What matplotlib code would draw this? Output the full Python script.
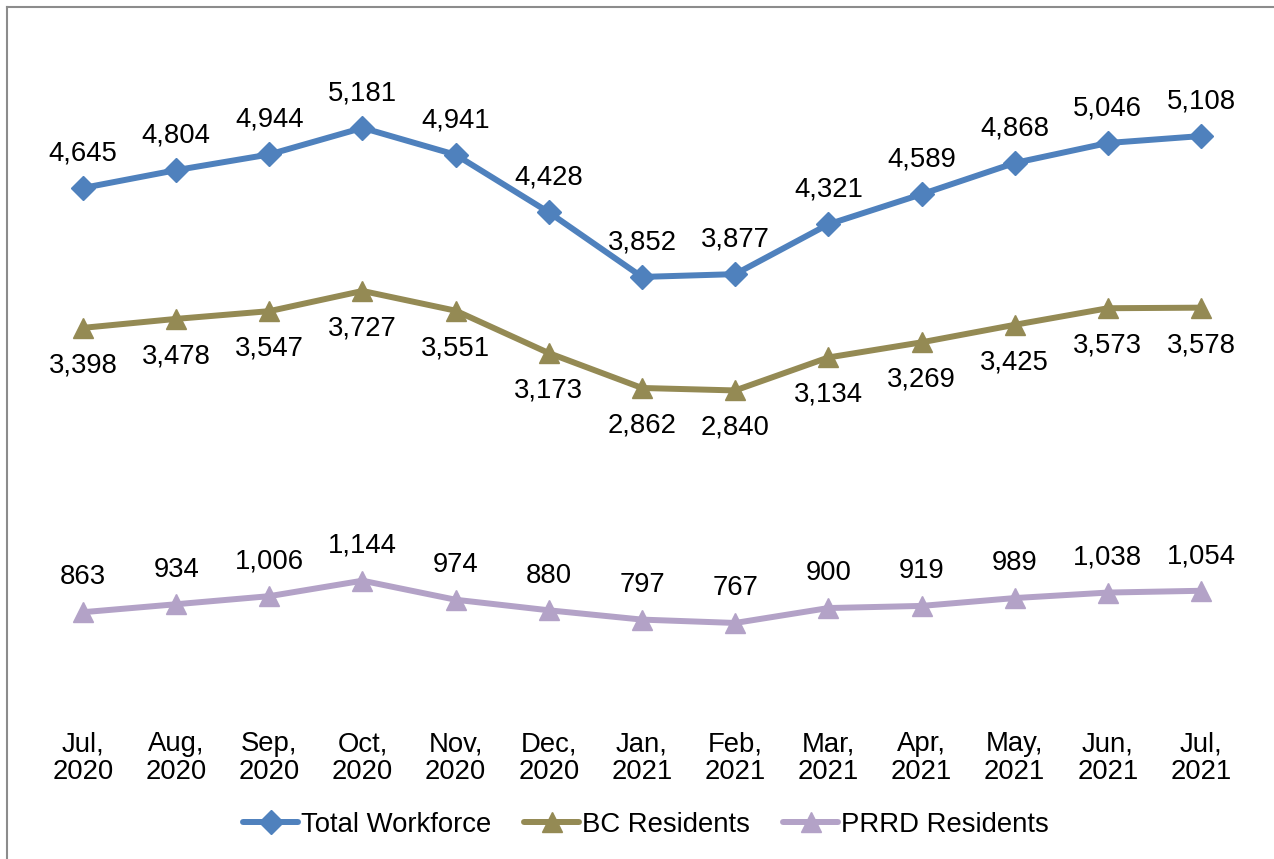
import numpy as np
import matplotlib.pyplot as plt
from matplotlib.lines import Line2D

plt.rcParams['font.family'] = ['Liberation Sans', 'DejaVu Sans']

# Dados do grafico
months = ['Jul,\n2020', 'Aug,\n2020', 'Sep,\n2020', 'Oct,\n2020', 'Nov,\n2020', 'Dec,\n2020',
          'Jan,\n2021', 'Feb,\n2021', 'Mar,\n2021', 'Apr,\n2021', 'May,\n2021', 'Jun,\n2021',
          'Jul,\n2021']
total_workforce = [4645, 4804, 4944, 5181, 4941, 4428, 3852, 3877, 4321, 4589, 4868, 5046, 5108]
bc_residents = [3398, 3478, 3547, 3727, 3551, 3173, 2862, 2840, 3134, 3269, 3425, 3573, 3578]
prrd_residents = [863, 934, 1006, 1144, 974, 880, 797, 767, 900, 919, 989, 1038, 1054]

W, H = 1274, 859
fig = plt.figure(figsize=(W / 100, H / 100), dpi=100)
ax = fig.add_axes([36.4 / W, 1 - 709 / H, (1247.6 - 36.4) / W, (709 - 36) / H])

x = np.arange(len(months))
series = [
    (total_workforce, 'Total Workforce', '#4F81BD', 'D', 12, 25),
    (bc_residents, 'BC Residents', '#948A54', '^', 14, -27),
    (prrd_residents, 'PRRD Residents', '#B3A2C7', '^', 14, 25),
]

handles = []
for values, label, color, marker, ms, offset in series:
    line, = ax.plot(x, values, color=color, lw=4.3, marker=marker, markersize=ms,
                    label=label, solid_joinstyle='round', solid_capstyle='round')
    handles.append(line)
    for xi, v in zip(x, values):
        ax.annotate(f'{v:,}', (xi, v), xytext=(0, offset), textcoords='offset points',
                    ha='center', va='center', fontsize=19.8)

ax.set_xlim(-0.5, len(months) - 0.5)
ax.set_ylim(0, 6000)
ax.set_yticks([])
ax.set_xticks(x)
ax.set_xticklabels(months, fontsize=19.8, linespacing=1.1)
ax.tick_params(axis='x', length=0, pad=16)
for spine in ax.spines.values():
    spine.set_visible(False)

fig.legend(handles=handles, loc='center', bbox_to_anchor=(646 / W, 1 - 825 / H), ncol=3,
           frameon=False, fontsize=19.8, handlelength=2.0, handletextpad=0.1,
           columnspacing=1.2)

# Borda cinza (cortada a direita e embaixo)
fig.add_artist(Line2D([7 / W, 7 / W], [0, 1 - 7 / H], color='#8c8c8c', lw=1.5,
                      transform=fig.transFigure))
fig.add_artist(Line2D([7 / W, 1], [1 - 7 / H, 1 - 7 / H], color='#8c8c8c', lw=1.5,
                      transform=fig.transFigure))

fig.savefig('out.png', dpi=100)
